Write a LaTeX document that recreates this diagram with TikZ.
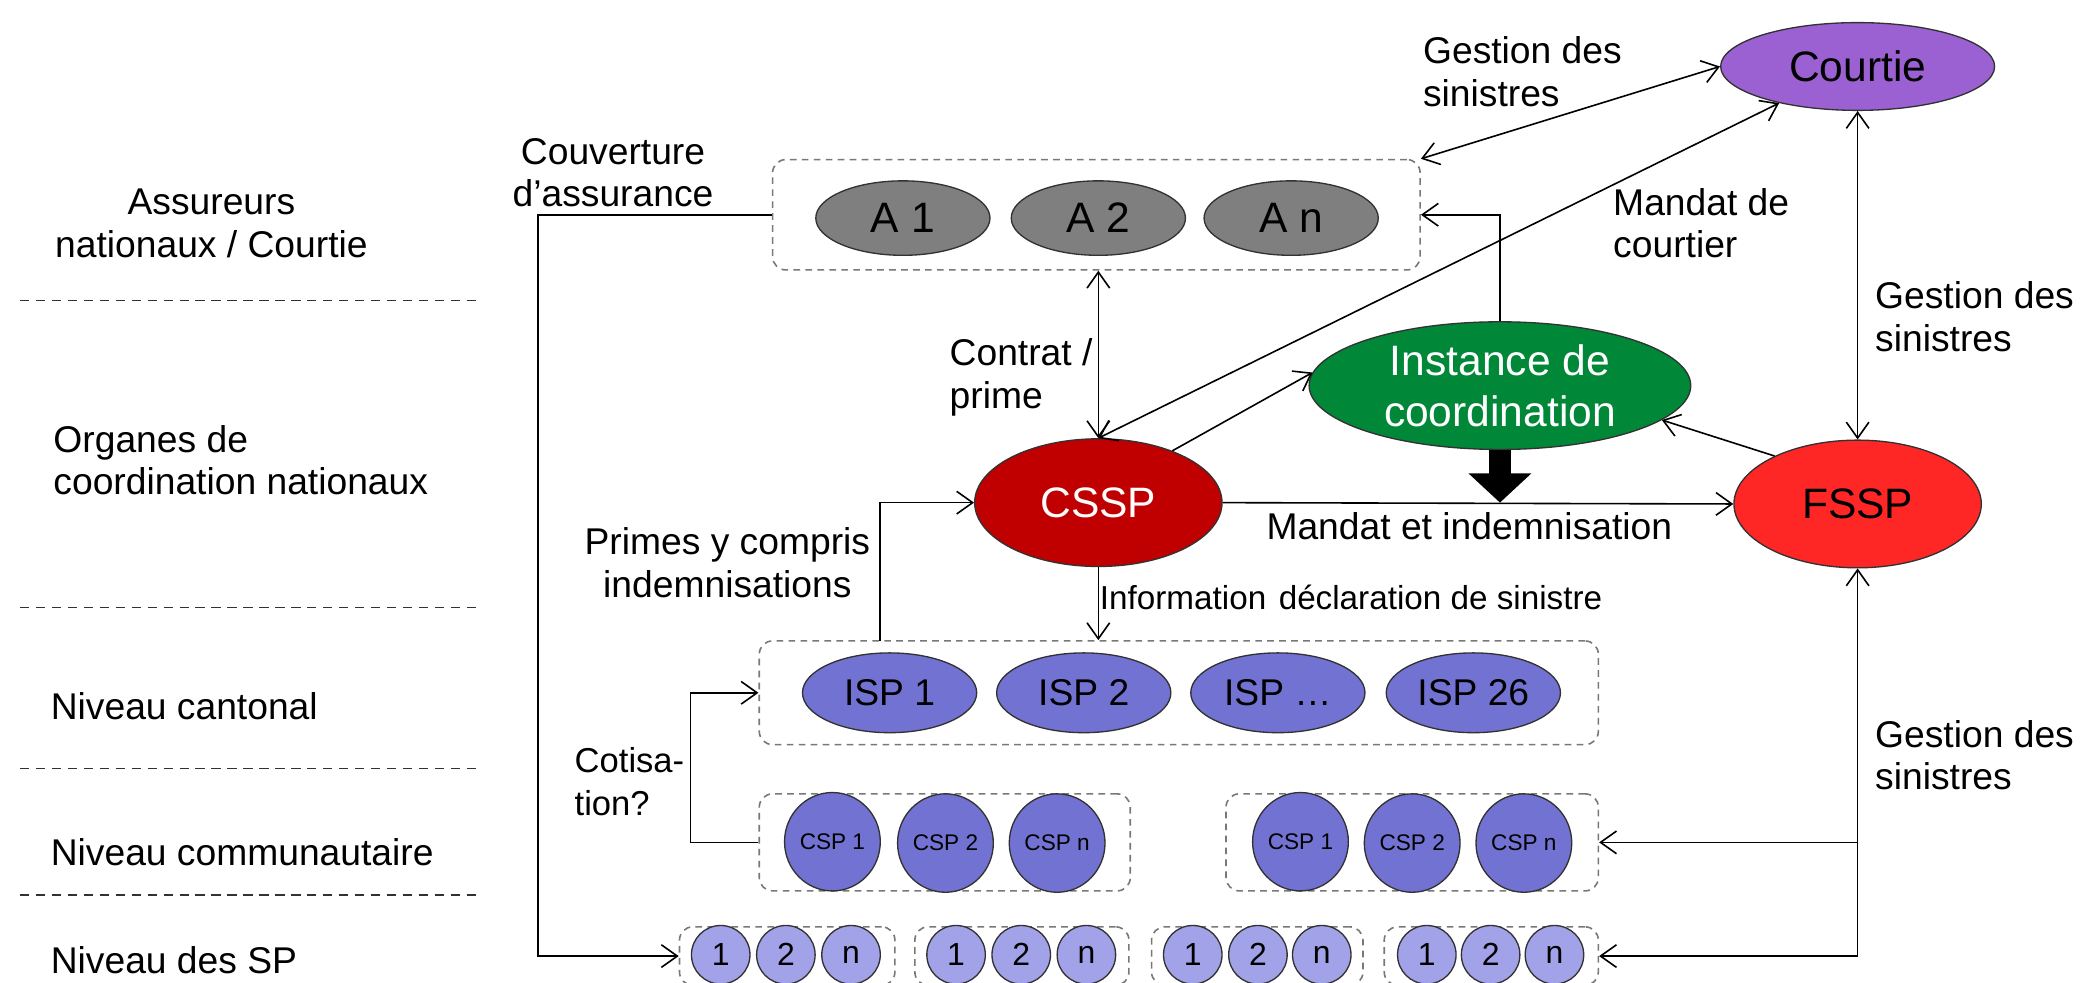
\documentclass[tikz,border=0pt]{standalone}
\usepackage{fontspec}
\setmainfont{Liberation Sans}
\usetikzlibrary{arrows.meta,shapes.geometric,calc}
\definecolor{agray}{RGB}{127,127,127}
\definecolor{edge}{RGB}{50,50,50}
\definecolor{boxgray}{RGB}{120,120,120}
\definecolor{courtiec}{RGB}{155,97,210}
\definecolor{instc}{RGB}{0,136,56}
\definecolor{csspc}{RGB}{192,0,0}
\definecolor{fsspc}{RGB}{255,38,38}
\definecolor{ispc}{RGB}{114,114,210}
\definecolor{spc}{RGB}{162,162,232}
\tikzset{
  lbl/.style={font=\fontsize{28}{32}\selectfont, inner sep=0pt, align=left},
  side/.style={font=\fontsize{28}{32}\selectfont, inner sep=0pt, align=left, anchor=west},
  grp/.style={draw=boxgray, line width=1.2pt, dash pattern=on 5pt off 4pt, rounded corners=10pt, inner sep=0pt},
  sep/.style={draw=edge, line width=1.2pt, dash pattern=on 7pt off 5pt},
  ell/.style={ellipse, draw=edge, line width=1pt, inner sep=0pt},
  aell/.style={ell, fill=agray, minimum width=131pt, minimum height=56pt, font=\fontsize{32}{36}\selectfont},
  isp/.style={ell, fill=ispc, minimum width=131pt, minimum height=60pt, font=\fontsize{28}{32}\selectfont},
  csp/.style={ell, fill=ispc, minimum width=72pt, minimum height=74pt, font=\fontsize{17}{20}\selectfont},
  spn/.style={ell, fill=spc, minimum width=44pt, minimum height=44pt, font=\fontsize{24}{26}\selectfont},
  big/.style={ell, minimum width=186pt, minimum height=96pt, font=\fontsize{32}{38}\selectfont, align=center},
  conn/.style={line width=1.2pt},
  arr/.style={conn, -{Straight Barb[length=12pt,width=17pt]}},
  darr/.style={conn, {Straight Barb[length=12pt,width=17pt]}-{Straight Barb[length=12pt,width=17pt]}}
}
\begin{document}
\begin{tikzpicture}[x=1pt,y=-1pt]
\useasboundingbox (0,0) rectangle (1568,739);
\fill[white] (0,0) rectangle (1568,739);

% left level labels and separators
\node[lbl, align=center] (lAss) at (159,168) {Assureurs\\nationaux / Courtie};
\node[side] (lOrg) at (40,346) {Organes de\\coordination nationaux};
\node[side] (lCan) at (38,531) {Niveau cantonal};
\node[side] (lCom) at (38,641) {Niveau communautaire};
\node[side] (lSP) at (38,722) {Niveau des SP};
\draw[sep] (15,226) -- (362,226);
\draw[sep] (15,457) -- (362,457);
\draw[sep] (15,578) -- (362,578);
\draw[sep] (15,673) -- (362,673);

% group boxes
\node[grp, minimum width=487pt, minimum height=83pt] (boxA) at (824.5,161.5) {};
\node[grp, minimum width=631pt, minimum height=78pt] (ispbox) at (886.5,521) {};
\node[grp, minimum width=279pt, minimum height=73pt] (cspbox1) at (710.5,633.5) {};
\node[grp, minimum width=280pt, minimum height=73pt] (cspbox2) at (1062,633.5) {};
\node[grp, minimum width=162pt, minimum height=44pt] (spb1) at (592,719) {};
\node[grp, minimum width=161pt, minimum height=44pt] (spb2) at (768.5,719) {};
\node[grp, minimum width=159pt, minimum height=44pt] (spb3) at (945.5,719) {};
\node[grp, minimum width=161pt, minimum height=44pt] (spb4) at (1121.5,719) {};

% insurers
\node[aell] (a1) at (679,164) {A 1};
\node[aell] (a2) at (826,164) {A 2};
\node[aell] (an) at (971,164) {A n};

% main actors
\node[ell, fill=courtiec, minimum width=206pt, minimum height=66pt, font=\fontsize{32}{36}\selectfont] (courtie) at (1397,50) {Courtie};
\node[big, fill=instc, text=white, minimum width=287pt] (inst) at (1128,290) {Instance de\\coordination};
\node[big, fill=csspc, text=white] (cssp) at (826,378) {CSSP};
\node[big, fill=fsspc] (fssp) at (1397,379) {FSSP};

% cantonal
\node[isp] (isp1) at (669,521) {ISP 1};
\node[isp] (isp2) at (815,521) {ISP 2};
\node[isp] (isp3) at (961,521) {ISP …};
\node[isp] (isp4) at (1108,521) {ISP 26};

% communal
\node[csp] (c11) at (626,633) {CSP 1};
\node[csp] (c12) at (711,634) {CSP 2};
\node[csp] (c13) at (795,634) {CSP n};
\node[csp] (c21) at (978,633) {CSP 1};
\node[csp] (c22) at (1062,634) {CSP 2};
\node[csp] (c23) at (1146,634) {CSP n};

% SP
\node[spn] (s11) at (542,718) {1};
\node[spn] (s12) at (591,718) {2};
\node[spn] (s13) at (640,718) {n};
\node[spn] (s21) at (719,718) {1};
\node[spn] (s22) at (768,718) {2};
\node[spn] (s23) at (817,718) {n};
\node[spn] (s31) at (897,718) {1};
\node[spn] (s32) at (946,718) {2};
\node[spn] (s33) at (994,718) {n};
\node[spn] (s41) at (1073,718) {1};
\node[spn] (s42) at (1121,718) {2};
\node[spn] (s43) at (1169,718) {n};

% connector labels
\node[lbl, align=center] (tCouv) at (461,130) {Couverture\\d’assurance};
\node[side] (tGes1) at (1070,54) {Gestion des\\sinistres};
\node[side] (tMand) at (1213,168) {Mandat de\\courtier};
\node[side] (tGes2) at (1410,238) {Gestion des\\sinistres};
\node[side] (tCont) at (714,284) {Contrat /\\prime};
\node[lbl, align=center] (tPrim) at (547,423) {Primes y compris\\indemnisations};
\node[lbl] (tMi) at (1105,396) {Mandat et indemnisation};
\node[side, font=\fontsize{25}{28}\selectfont] (tInfo) at (827,449) {Information\hspace{0.1em} déclaration de sinistre};
\node[side, font=\fontsize{26}{32}\selectfont] (tCot) at (432,588) {Cotisa-\\tion?};
\node[side] (tGes3) at (1410,568) {Gestion des\\sinistres};

% connectors
\draw[arr] (boxA.west) -- ++(-176,0) |- (spb1.west);
\draw[darr] (boxA.north east) -- (courtie.west);
\draw[darr] (cssp.north) -- (courtie.205);
\draw[darr] (courtie.south) -- (fssp.north);
\draw[arr] (inst.north) |- (boxA.east);
\draw[darr] (cssp.north) -- (cssp.north |- boxA.south);
\draw[arr] (cssp.35) -- (inst.176);
\draw[arr] (fssp.150) -- (inst.-12);
\draw[arr] (cssp.east) -- (fssp.west);
\draw[line width=17pt, -{Triangle[length=22pt,width=46pt]}] (inst.south) -- (inst.south |- cssp.east);
\draw[arr] (cssp.south) -- (cssp.south |- ispbox.north);
\coordinate (pp) at (662,482);
\draw[arr] (pp) |- (cssp.west);
\draw[arr] (cspbox1.west) -- ++(-51,0) |- (ispbox.west);
\coordinate (rb) at (fssp.south |- spb4.east);
\draw[arr] (rb) -- (fssp.south);
\draw[arr] (rb) -- (spb4.east);
\draw[arr] (fssp.south |- cspbox2.east) -- (cspbox2.east);
\end{tikzpicture}
\end{document}
